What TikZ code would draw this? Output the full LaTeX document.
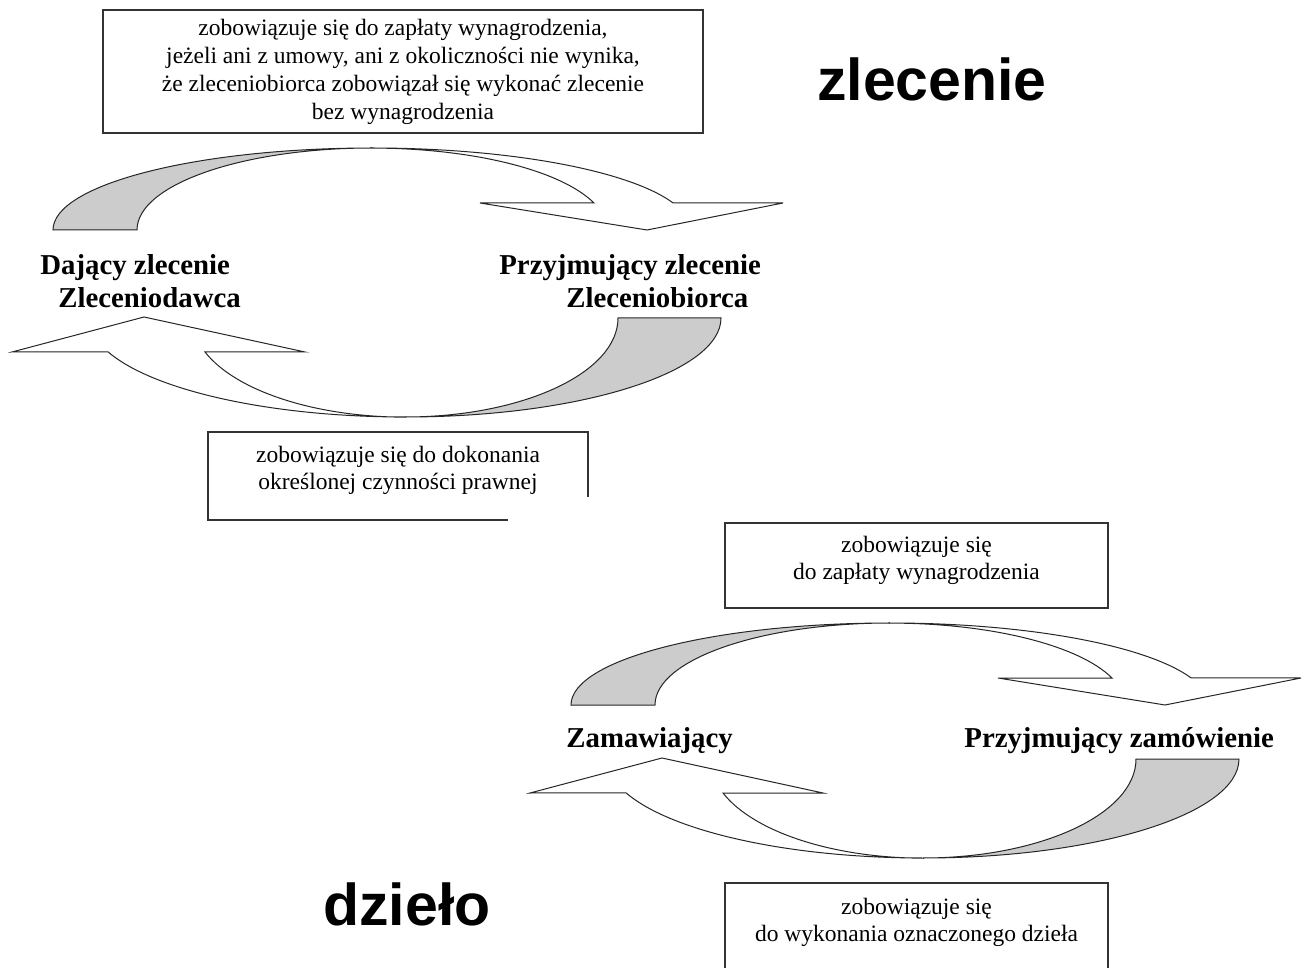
\documentclass[tikz,border=0pt]{standalone}
\usepackage{fontspec}
\setmainfont{Liberation Serif}
\newfontfamily\tytulfont{Liberation Sans}
\newcommand{\opis}{\fontsize{11.75}{13.5}\selectfont}
\newcommand{\opisszeroki}{\fontsize{11.75}{14}\selectfont}
\newcommand{\osobafont}{\fontsize{14.4}{16.5}\selectfont\bfseries}
\newcommand{\tytul}{\tytulfont\fontsize{29.5}{32}\selectfont\bfseries}

\begin{document}
\begin{tikzpicture}[x=0.5pt, y=-0.5pt,
    ramka/.style={draw=black!80, line width=0.6pt},
    szary/.style={draw=black!85, fill=black!20, line width=0.5pt},
    bialy/.style={draw=black!85, fill=white, line width=0.5pt},
    tekst/.style={inner sep=0pt, align=center, font=\opis},
    osoba/.style={inner sep=0pt, align=left, font=\osobafont}]
	\useasboundingbox (0,0) rectangle (1303,968);

	% Zlecenie - gorna strzalka
	\filldraw[szary] (53,230) arc[start angle=180, end angle=270, x radius=319, y radius=82]
		arc[start angle=270, end angle=180, x radius=235, y radius=82] -- cycle;
	\filldraw[bialy] (372,148) arc[start angle=270, end angle=340.7, x radius=319, y radius=82]
		-- (783,203) -- (647,230) -- (480,203) -- (594,203)
		arc[start angle=340.7, end angle=270, x radius=235, y radius=82] -- cycle;

	% Zlecenie - dolna strzalka
	\filldraw[szary] (721,318) arc[start angle=0, end angle=90, x radius=316, y radius=99]
		arc[start angle=90, end angle=0, x radius=213, y radius=99] -- cycle;
	\filldraw[bialy] (405,417) arc[start angle=90, end angle=160, x radius=316, y radius=99]
		-- (12,352) -- (144,317) -- (305,352) -- (205,352)
		arc[start angle=160, end angle=90, x radius=213, y radius=99] -- cycle;

	% Dzielo - gorna strzalka
	\begin{scope}[shift={(518,475)}]
		\filldraw[szary] (53,230) arc[start angle=180, end angle=270, x radius=319, y radius=82]
			arc[start angle=270, end angle=180, x radius=235, y radius=82] -- cycle;
		\filldraw[bialy] (372,148) arc[start angle=270, end angle=340.7, x radius=319, y radius=82]
			-- (783,203) -- (647,230) -- (480,203) -- (594,203)
			arc[start angle=340.7, end angle=270, x radius=235, y radius=82] -- cycle;
	\end{scope}

	% Dzielo - dolna strzalka
	\begin{scope}[shift={(518,441)}]
		\filldraw[szary] (721,318) arc[start angle=0, end angle=90, x radius=316, y radius=99]
			arc[start angle=90, end angle=0, x radius=213, y radius=99] -- cycle;
		\filldraw[bialy] (405,417) arc[start angle=90, end angle=160, x radius=316, y radius=99]
			-- (12,352) -- (144,317) -- (305,352) -- (205,352)
			arc[start angle=160, end angle=90, x radius=213, y radius=99] -- cycle;
	\end{scope}

	% Ramki
	\draw[ramka] (103,10) rectangle (703,133);
	\draw[ramka] (508,520) -- (208,520) -- (208,432) -- (588,432) -- (588,497);
	\draw[ramka] (725,523) rectangle (1108,608);
	\draw[ramka] (725,968) -- (725,883) -- (1108,883) -- (1108,968);

	% Opisy w ramkach
	\node[tekst, font=\opisszeroki, anchor=north] (zlplaci) at (403,19) {zobowiązuje się do zapłaty wynagrodzenia,\\
		jeżeli ani z umowy, ani z okoliczności nie wynika,\\
		że zleceniobiorca zobowiązał się wykonać zlecenie\\
		bez wynagrodzenia};
	\node[tekst, anchor=north] (zlwykonuje) at (398,446) {zobowiązuje się do dokonania\\określonej czynności prawnej};
	\node[tekst, anchor=north] (dzplaci) at (916.5,536) {zobowiązuje się\\do zapłaty wynagrodzenia};
	\node[tekst, anchor=north] (dzwykonuje) at (916.5,898) {zobowiązuje się\\do wykonania oznaczonego dzieła};

	% Strony umowy
	\node[osoba, anchor=north west] (dajacy) at (40,254) {Dający zlecenie\\\hspace*{9pt}Zleceniodawca};
	\node[osoba, anchor=north west] (przyjmujacy) at (499,254) {Przyjmujący zlecenie\\\hspace*{33.5pt}Zleceniobiorca};
	\node[osoba, anchor=base west] (zamawiajacy) at (566,747) {Zamawiający};
	\node[osoba, anchor=base west] (wykonawca) at (964,747) {Przyjmujący zamówienie};

	% Tytuly
	\node[inner sep=0pt, anchor=base, font=\tytul] (zlecenie) at (932,101) {zlecenie};
	\node[inner sep=0pt, anchor=base, font=\tytul] (dzielo) at (407,925) {dzieło};
\end{tikzpicture}
\end{document}
